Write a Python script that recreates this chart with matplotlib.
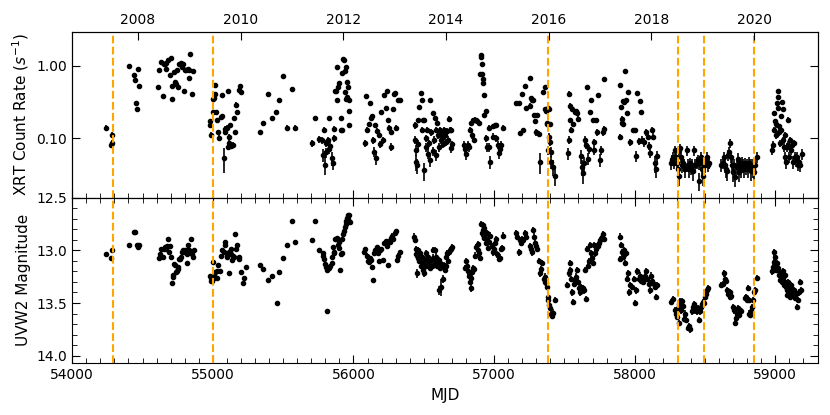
import numpy as np
import pandas as pd
import matplotlib
matplotlib.use("Agg")
import matplotlib.pyplot as plt
from matplotlib.ticker import MultipleLocator, FormatStrFormatter, LogLocator, NullFormatter

plt.rcParams['font.family'] = ['DejaVu Sans']

# XRT count rate per season: (MJD, rate, error)
xrt_2007 = [(54241, 0.14, 0.01), (54277, 0.080, 0.008), (54280, 0.085, 0.008), (54282, 0.11, 0.01)]
xrt_2008 = [(54405, 0.97, 0.05), (54436, 0.73, 0.04), (54447, 0.64, 0.04), (54452, 0.30, 0.02),
            (54459, 0.25, 0.02), (54466, 0.90, 0.05), (54476, 0.53, 0.03),
            (54613, 0.50, 0.03), (54620, 0.87, 0.04), (54632, 1.11, 0.05), (54644, 0.38, 0.02),
            (54650, 1.05, 0.05), (54660, 1.06, 0.05), (54664, 0.90, 0.04), (54670, 1.10, 0.05),
            (54680, 1.20, 0.05), (54692, 0.75, 0.04), (54700, 1.25, 0.05), (54707, 0.35, 0.02),
            (54710, 0.52, 0.03), (54722, 0.82, 0.04), (54730, 0.60, 0.03), (54738, 0.55, 0.03),
            (54743, 0.87, 0.04), (54754, 0.50, 0.03), (54761, 1.05, 0.05), (54773, 1.10, 0.05),
            (54780, 0.95, 0.05), (54785, 1.05, 0.05), (54792, 0.45, 0.03), (54802, 0.87, 0.04),
            (54808, 0.86, 0.04), (54820, 0.90, 0.04), (54830, 0.68, 0.04), (54832, 0.87, 0.04),
            (54838, 1.45, 0.06), (54849, 0.40, 0.02), (54860, 0.85, 0.04)]
xrt_2009 = [(54980, 0.15, 0.01), (54982, 0.17, 0.012), (54984, 0.11, 0.01), (55000, 0.23, 0.015),
            (55003, 0.35, 0.02), (55007, 0.36, 0.02), (55012, 0.54, 0.03), (55018, 0.41, 0.02),
            (55025, 0.23, 0.015), (55030, 0.18, 0.012), (55040, 0.12, 0.01), (55046, 0.10, 0.01),
            (55055, 0.195, 0.012), (55062, 0.20, 0.012), (55067, 0.39, 0.02), (55076, 0.053, 0.02),
            (55083, 0.135, 0.012), (55088, 0.12, 0.01), (55098, 0.14, 0.012), (55105, 0.076, 0.008),
            (55113, 0.085, 0.008), (55118, 0.105, 0.01), (55125, 0.15, 0.012), (55110, 0.44, 0.02),
            (55132, 0.078, 0.008), (55140, 0.080, 0.008), (55148, 0.19, 0.012), (55155, 0.12, 0.01),
            (55162, 0.29, 0.02), (55174, 0.23, 0.015), (55185, 0.46, 0.02), (55196, 0.52, 0.03),
            (55200, 0.43, 0.02)]
xrt_2010 = [(55335, 0.12, 0.01), (55359, 0.16, 0.01), (55390, 0.40, 0.02), (55418, 0.19, 0.012),
            (55449, 0.23, 0.015), (55472, 0.33, 0.02), (55501, 0.72, 0.04), (55525, 0.14, 0.01),
            (55560, 0.47, 0.03), (55584, 0.14, 0.01)]
xrt_2011 = [(55702, 0.085, 0.01), (55728, 0.19, 0.012), (55757, 0.096, 0.01), (55778, 0.094, 0.01),
            (55785, 0.059, 0.012), (55792, 0.13, 0.012), (55799, 0.043, 0.012), (55802, 0.085, 0.01),
            (55806, 0.064, 0.01), (55816, 0.094, 0.01), (55825, 0.19, 0.012), (55827, 0.070, 0.01),
            (55836, 0.078, 0.01), (55845, 0.053, 0.012), (55852, 0.046, 0.01), (55859, 0.099, 0.01),
            (55863, 0.135, 0.01), (55866, 0.45, 0.02), (55875, 0.44, 0.02), (55882, 0.95, 0.04),
            (55885, 0.33, 0.02), (55891, 0.50, 0.03), (55898, 0.58, 0.03), (55908, 0.19, 0.012),
            (55911, 0.13, 0.01), (55915, 0.78, 0.04), (55919, 0.13, 0.01), (55927, 1.23, 0.05),
            (55936, 1.20, 0.05), (55938, 0.85, 0.04), (55940, 0.43, 0.02), (55946, 0.35, 0.02),
            (55949, 0.95, 0.04), (55954, 0.60, 0.03), (55957, 0.37, 0.02), (55961, 0.50, 0.03),
            (55965, 0.24, 0.015), (55968, 0.33, 0.02), (55971, 0.15, 0.01)]
xrt_2012 = [(56081, 0.085, 0.01), (56088, 0.38, 0.02), (56097, 0.13, 0.012), (56109, 0.155, 0.012),
            (56116, 0.30, 0.02), (56123, 0.19, 0.015), (56130, 0.20, 0.015), (56140, 0.094, 0.01),
            (56145, 0.065, 0.01), (56157, 0.053, 0.01), (56155, 0.15, 0.012), (56170, 0.126, 0.012),
            (56183, 0.11, 0.01), (56188, 0.082, 0.01), (56193, 0.23, 0.015), (56210, 0.093, 0.01),
            (56220, 0.39, 0.02), (56232, 0.26, 0.015), (56237, 0.44, 0.02), (56248, 0.18, 0.012),
            (56250, 0.14, 0.012), (56264, 0.076, 0.01), (56268, 0.12, 0.01), (56282, 0.25, 0.015),
            (56287, 0.41, 0.02), (56298, 0.42, 0.02), (56305, 0.14, 0.012), (56318, 0.34, 0.02),
            (56330, 0.33, 0.02)]
xrt_2013 = [(56436, 0.15, 0.015), (56441, 0.094, 0.012), (56443, 0.068, 0.012), (56448, 0.047, 0.012),
            (56453, 0.042, 0.01), (56460, 0.175, 0.015), (56462, 0.082, 0.012), (56467, 0.27, 0.02),
            (56477, 0.42, 0.025), (56484, 0.34, 0.02), (56489, 0.13, 0.012), (56496, 0.175, 0.015),
            (56502, 0.036, 0.01), (56505, 0.175, 0.015), (56513, 0.10, 0.012), (56518, 0.075, 0.01),
            (56522, 0.13, 0.012), (56530, 0.061, 0.01), (56537, 0.085, 0.01), (56541, 0.34, 0.02),
            (56546, 0.050, 0.01), (56553, 0.12, 0.012), (56562, 0.22, 0.015), (56567, 0.066, 0.01),
            (56570, 0.095, 0.012), (56577, 0.19, 0.015), (56584, 0.13, 0.012), (56589, 0.058, 0.01),
            (56596, 0.16, 0.015), (56600, 0.11, 0.012), (56605, 0.075, 0.01), (56612, 0.13, 0.012),
            (56619, 0.095, 0.012), (56624, 0.115, 0.012), (56631, 0.10, 0.012), (56636, 0.082, 0.01),
            (56643, 0.13, 0.012), (56650, 0.11, 0.012), (56660, 0.088, 0.01), (56664, 0.125, 0.012),
            (56671, 0.095, 0.012), (56679, 0.185, 0.015), (56683, 0.13, 0.012), (56690, 0.072, 0.01),
            (56697, 0.13, 0.012), (56702, 0.082, 0.01)]
xrt_2014 = [(56786, 0.080, 0.01), (56795, 0.070, 0.01), (56802, 0.060, 0.01), (56814, 0.080, 0.01),
            (56821, 0.075, 0.01), (56828, 0.13, 0.012), (56833, 0.16, 0.012), (56840, 0.11, 0.012),
            (56848, 0.175, 0.015), (56855, 0.095, 0.01), (56862, 0.18, 0.015), (56869, 0.175, 0.015),
            (56881, 0.17, 0.015), (56893, 0.16, 0.012), (56902, 0.77, 0.04), (56907, 1.41, 0.06),
            (56910, 1.30, 0.06), (56912, 1.05, 0.05), (56917, 0.77, 0.04), (56921, 0.66, 0.04),
            (56924, 0.57, 0.03), (56926, 0.39, 0.02), (56928, 0.21, 0.015), (56945, 0.24, 0.015),
            (56941, 0.10, 0.012), (56947, 0.075, 0.01), (56962, 0.14, 0.012), (56967, 0.075, 0.01),
            (56973, 0.047, 0.01), (56989, 0.145, 0.012), (56995, 0.105, 0.012), (57003, 0.15, 0.012),
            (57012, 0.10, 0.012), (57016, 0.15, 0.012), (57031, 0.080, 0.01), (57035, 0.062, 0.01),
            (57042, 0.070, 0.01), (57050, 0.080, 0.01), (57060, 0.14, 0.012)]
xrt_2015 = [(57158, 0.30, 0.02), (57175, 0.30, 0.02), (57201, 0.41, 0.02), (57187, 0.116, 0.01),
            (57206, 0.13, 0.01), (57217, 0.53, 0.03), (57229, 0.26, 0.015), (57252, 0.68, 0.04),
            (57257, 0.28, 0.02), (57264, 0.36, 0.02), (57271, 0.33, 0.02), (57276, 0.34, 0.02),
            (57283, 0.21, 0.015), (57294, 0.17, 0.015), (57300, 0.12, 0.012), (57307, 0.21, 0.015),
            (57316, 0.115, 0.012), (57326, 0.047, 0.015), (57347, 0.43, 0.02), (57359, 0.50, 0.03),
            (57364, 0.25, 0.015), (57371, 0.24, 0.015), (57376, 0.16, 0.012), (57378, 0.155, 0.012),
            (57383, 0.26, 0.015), (57388, 0.25, 0.015), (57395, 0.155, 0.012), (57384, 0.068, 0.01),
            (57390, 0.105, 0.012), (57396, 0.088, 0.01), (57402, 0.065, 0.01), (57406, 0.047, 0.01),
            (57419, 0.040, 0.01), (57430, 0.030, 0.008)]
xrt_2016 = [(57528, 0.062, 0.012), (57532, 0.095, 0.012), (57535, 0.41, 0.03), (57537, 0.28, 0.02),
            (57542, 0.175, 0.015), (57547, 0.13, 0.012), (57552, 0.25, 0.015), (57561, 0.155, 0.012),
            (57573, 0.23, 0.015), (57580, 0.24, 0.015), (57589, 0.22, 0.015), (57600, 0.185, 0.015),
            (57619, 0.056, 0.012), (57624, 0.040, 0.01), (57632, 0.033, 0.01), (57636, 0.045, 0.01),
            (57648, 0.095, 0.012), (57655, 0.080, 0.01), (57663, 0.50, 0.03), (57667, 0.052, 0.01),
            (57672, 0.070, 0.01), (57679, 0.23, 0.015), (57690, 0.33, 0.02), (57702, 0.175, 0.015),
            (57709, 0.068, 0.01), (57713, 0.088, 0.01), (57725, 0.175, 0.015), (57729, 0.12, 0.012),
            (57741, 0.39, 0.02), (57754, 0.050, 0.01), (57761, 0.068, 0.01), (57773, 0.12, 0.012),
            (57780, 0.135, 0.012), (57785, 0.66, 0.04)]
xrt_2017 = [(57892, 0.105, 0.01), (57897, 0.54, 0.03), (57904, 0.27, 0.02), (57909, 0.185, 0.015),
            (57912, 0.16, 0.012), (57915, 0.155, 0.012), (57920, 0.32, 0.02), (57927, 0.31, 0.02),
            (57932, 0.85, 0.04), (57939, 0.33, 0.02), (57946, 0.22, 0.015), (57955, 0.43, 0.02),
            (57964, 0.088, 0.01), (57988, 0.13, 0.01), (57999, 0.13, 0.01), (58011, 0.057, 0.01),
            (58018, 0.42, 0.02), (58030, 0.090, 0.01), (58035, 0.32, 0.02), (58042, 0.23, 0.015),
            (58054, 0.095, 0.012), (58063, 0.088, 0.012), (58082, 0.12, 0.012), (58094, 0.105, 0.012),
            (58101, 0.078, 0.01), (58108, 0.063, 0.01), (58120, 0.13, 0.012), (58130, 0.105, 0.012),
            (58144, 0.045, 0.012), (58151, 0.038, 0.01), (58158, 0.057, 0.01)]
xrt_2018 = [(58259, 0.045, 0.009), (58266, 0.050, 0.009), (58273, 0.055, 0.01), (58280, 0.046, 0.009),
            (58287, 0.068, 0.011), (58297, 0.055, 0.01), (58304, 0.045, 0.009), (58308, 0.037, 0.009),
            (58316, 0.030, 0.008), (58318, 0.068, 0.011), (58325, 0.072, 0.011), (58332, 0.055, 0.01),
            (58337, 0.042, 0.009), (58346, 0.046, 0.009), (58353, 0.043, 0.009), (58360, 0.037, 0.009),
            (58370, 0.068, 0.011), (58377, 0.043, 0.009), (58384, 0.037, 0.009), (58394, 0.045, 0.009),
            (58401, 0.040, 0.009), (58408, 0.042, 0.009), (58417, 0.035, 0.009), (58424, 0.068, 0.011),
            (58431, 0.043, 0.009), (58441, 0.046, 0.009), (58448, 0.050, 0.009), (58455, 0.045, 0.009),
            (58459, 0.026, 0.007), (58466, 0.048, 0.009), (58474, 0.055, 0.01), (58478, 0.037, 0.009),
            (58483, 0.030, 0.008), (58488, 0.045, 0.009), (58495, 0.046, 0.009), (58502, 0.042, 0.009),
            (58507, 0.048, 0.009), (58514, 0.055, 0.01), (58521, 0.043, 0.009), (58526, 0.046, 0.009)]
xrt_2019 = [(58614, 0.043, 0.009), (58626, 0.046, 0.009), (58633, 0.055, 0.01), (58640, 0.042, 0.009),
            (58648, 0.037, 0.009), (58655, 0.035, 0.009), (58664, 0.058, 0.01), (58671, 0.064, 0.011),
            (58680, 0.085, 0.012), (58688, 0.055, 0.01), (58695, 0.043, 0.009), (58702, 0.034, 0.009),
            (58709, 0.042, 0.009), (58716, 0.029, 0.008), (58726, 0.040, 0.009), (58733, 0.052, 0.01),
            (58740, 0.034, 0.009), (58747, 0.045, 0.009), (58757, 0.037, 0.009), (58764, 0.046, 0.009),
            (58771, 0.042, 0.009), (58778, 0.037, 0.009), (58785, 0.045, 0.009), (58792, 0.040, 0.009),
            (58799, 0.043, 0.009), (58806, 0.037, 0.009), (58814, 0.046, 0.009), (58821, 0.042, 0.009),
            (58828, 0.035, 0.009), (58835, 0.043, 0.009), (58842, 0.037, 0.009), (58849, 0.034, 0.009),
            (58856, 0.042, 0.009), (58868, 0.055, 0.01)]
xrt_2020 = [(58976, 0.068, 0.01), (58983, 0.080, 0.01), (58988, 0.13, 0.012), (58993, 0.22, 0.015),
            (58997, 0.17, 0.015), (59002, 0.155, 0.015), (59004, 0.11, 0.012), (59009, 0.30, 0.02),
            (59016, 0.44, 0.025), (59018, 0.37, 0.02), (59021, 0.26, 0.02), (59023, 0.145, 0.012),
            (59028, 0.12, 0.012), (59033, 0.085, 0.01), (59037, 0.13, 0.012), (59042, 0.20, 0.015),
            (59047, 0.31, 0.02), (59052, 0.095, 0.01), (59056, 0.25, 0.02), (59061, 0.075, 0.01),
            (59066, 0.055, 0.01), (59070, 0.11, 0.012), (59075, 0.047, 0.01), (59082, 0.075, 0.01),
            (59087, 0.18, 0.015), (59091, 0.080, 0.01), (59099, 0.055, 0.01), (59103, 0.095, 0.01),
            (59110, 0.068, 0.01), (59118, 0.080, 0.01), (59122, 0.047, 0.01), (59129, 0.085, 0.01),
            (59137, 0.055, 0.01), (59144, 0.050, 0.01), (59151, 0.055, 0.01), (59158, 0.043, 0.008),
            (59165, 0.047, 0.008), (59172, 0.042, 0.008), (59186, 0.060, 0.01)]

# UVW2 magnitude per season: (MJD, mag, error)
uv_2007 = [(54241, 13.04, 0.01), (54277, 13.07, 0.01), (54282, 13.00, 0.01), (54405, 12.95, 0.01),
           (54440, 12.83, 0.01), (54447, 12.83, 0.01), (54459, 12.95, 0.01), (54466, 12.97, 0.01),
           (54476, 12.95, 0.01)]
uv_2008 = [(54618, 13.07, 0.01), (54625, 13.04, 0.01), (54632, 12.99, 0.01), (54645, 13.06, 0.01),
           (54650, 12.99, 0.01), (54659, 12.97, 0.01), (54666, 12.99, 0.01), (54672, 12.96, 0.01),
           (54680, 12.89, 0.01), (54686, 13.02, 0.01), (54692, 12.96, 0.01), (54702, 13.06, 0.01),
           (54708, 13.31, 0.01), (54716, 13.25, 0.01), (54720, 13.23, 0.01), (54727, 13.13, 0.01),
           (54733, 13.14, 0.01), (54738, 13.21, 0.01), (54743, 13.20, 0.01), (54750, 13.18, 0.01),
           (54755, 13.16, 0.01), (54762, 13.08, 0.01), (54767, 13.08, 0.01), (54773, 13.06, 0.01),
           (54783, 13.02, 0.01), (54790, 13.00, 0.01), (54797, 13.02, 0.01), (54804, 13.00, 0.01),
           (54813, 13.04, 0.01), (54818, 13.00, 0.01), (54825, 12.95, 0.01), (54832, 13.00, 0.01),
           (54842, 12.89, 0.01), (54849, 13.04, 0.01), (54860, 13.06, 0.01), (54868, 13.00, 0.01),
           (54813, 13.12, 0.01)]
uv_2009 = [(54980, 13.24, 0.01), (54985, 13.29, 0.01), (54990, 13.26, 0.01), (54995, 13.29, 0.01),
           (55002, 13.11, 0.01), (55005, 13.26, 0.01), (55009, 13.23, 0.01), (55017, 13.21, 0.01),
           (55028, 13.20, 0.01), (55033, 13.26, 0.01), (55040, 13.14, 0.01), (55052, 13.20, 0.01),
           (55056, 13.05, 0.01), (55064, 13.00, 0.01), (55076, 13.02, 0.01), (55083, 12.92, 0.01),
           (55090, 12.95, 0.01), (55099, 13.05, 0.01), (55104, 13.06, 0.01), (55113, 13.02, 0.01),
           (55118, 13.22, 0.01), (55127, 12.99, 0.01), (55132, 13.04, 0.01), (55139, 13.09, 0.01),
           (55146, 13.05, 0.01), (55154, 13.06, 0.01), (55160, 12.85, 0.01), (55165, 12.99, 0.01),
           (55172, 12.95, 0.01), (55184, 13.06, 0.01), (55189, 13.08, 0.01), (55198, 13.21, 0.01),
           (55212, 13.31, 0.01), (55222, 13.26, 0.01), (55234, 13.16, 0.01)]
uv_2010 = [(55335, 13.14, 0.01), (55359, 13.18, 0.01), (55390, 13.28, 0.01), (55418, 13.24, 0.01),
           (55453, 13.50, 0.01), (55472, 13.21, 0.01), (55501, 13.07, 0.01), (55530, 12.95, 0.01),
           (55560, 12.72, 0.01), (55584, 12.92, 0.01), (55702, 12.90, 0.01), (55726, 12.72, 0.01)]
uv_2011 = [(55757, 13.00, 0.015), (55780, 13.03, 0.015), (55785, 13.05, 0.015), (55792, 13.08, 0.015),
           (55799, 13.13, 0.015), (55806, 13.16, 0.015), (55810, 13.19, 0.015), (55813, 13.575, 0.01),
           (55816, 13.17, 0.015), (55825, 13.17, 0.015), (55832, 13.15, 0.015), (55845, 13.12, 0.015),
           (55848, 13.06, 0.015), (55851, 12.97, 0.015), (55859, 13.03, 0.015), (55865, 13.02, 0.015),
           (55870, 12.89, 0.015), (55880, 12.88, 0.015), (55887, 12.95, 0.015), (55894, 12.92, 0.015),
           (55898, 12.98, 0.015), (55906, 13.19, 0.015), (55911, 13.04, 0.015), (55915, 13.03, 0.015),
           (55920, 12.89, 0.015), (55927, 12.85, 0.015), (55934, 12.82, 0.015), (55940, 12.78, 0.02),
           (55945, 12.75, 0.02), (55949, 12.72, 0.02), (55954, 12.69, 0.02), (55959, 12.67, 0.02),
           (55963, 12.70, 0.02), (55968, 12.67, 0.02), (55973, 12.73, 0.02)]
uv_2012 = [(56074, 13.02, 0.02), (56083, 12.99, 0.02), (56093, 13.05, 0.02), (56100, 13.10, 0.02),
           (56109, 13.11, 0.02), (56116, 13.07, 0.02), (56123, 13.09, 0.02), (56130, 13.16, 0.02),
           (56137, 13.28, 0.02), (56145, 13.03, 0.02), (56154, 13.00, 0.02), (56164, 12.97, 0.02),
           (56176, 13.03, 0.02), (56183, 13.10, 0.02), (56188, 13.00, 0.02), (56197, 12.99, 0.02),
           (56211, 13.09, 0.02), (56218, 12.93, 0.02), (56228, 12.91, 0.02), (56235, 12.96, 0.02),
           (56247, 13.14, 0.02), (56251, 12.91, 0.02), (56259, 12.92, 0.02), (56266, 12.88, 0.02),
           (56275, 12.86, 0.02), (56282, 12.89, 0.02), (56294, 12.84, 0.02), (56301, 12.82, 0.02),
           (56310, 13.09, 0.02), (56318, 13.05, 0.02), (56330, 13.02, 0.02)]
uv_2013 = [(56429, 12.87, 0.03), (56436, 12.90, 0.03), (56443, 12.99, 0.03), (56448, 13.04, 0.03),
           (56453, 13.22, 0.04), (56457, 13.07, 0.03), (56462, 13.00, 0.03), (56467, 13.10, 0.03),
           (56472, 13.03, 0.03), (56479, 13.15, 0.03), (56484, 13.06, 0.03), (56491, 13.12, 0.03),
           (56496, 13.19, 0.03), (56503, 13.22, 0.03), (56508, 13.09, 0.03), (56515, 13.03, 0.03),
           (56519, 13.15, 0.03), (56527, 13.10, 0.03), (56531, 13.06, 0.03), (56538, 13.14, 0.03),
           (56543, 13.17, 0.03), (56550, 13.09, 0.03), (56555, 13.15, 0.03), (56562, 13.00, 0.03),
           (56567, 13.07, 0.03), (56574, 13.14, 0.03), (56578, 13.00, 0.03), (56586, 13.06, 0.03),
           (56590, 13.10, 0.03), (56597, 13.15, 0.03), (56605, 13.09, 0.03), (56609, 13.38, 0.04),
           (56612, 13.17, 0.03), (56617, 13.12, 0.03), (56624, 13.35, 0.08), (56631, 13.15, 0.03),
           (56636, 13.27, 0.04), (56641, 13.14, 0.03), (56648, 13.19, 0.03), (56655, 13.15, 0.03),
           (56660, 13.06, 0.03), (56667, 13.03, 0.03), (56674, 13.10, 0.03), (56679, 13.02, 0.03),
           (56688, 13.00, 0.03), (56695, 12.99, 0.03), (56702, 12.97, 0.03)]
uv_2014 = [(56794, 13.17, 0.03), (56801, 13.10, 0.03), (56808, 13.15, 0.03), (56815, 13.20, 0.03),
           (56822, 13.24, 0.03), (56829, 13.30, 0.03), (56834, 13.36, 0.04), (56838, 13.26, 0.03),
           (56846, 13.21, 0.03), (56853, 13.17, 0.03), (56860, 13.18, 0.03), (56867, 13.05, 0.03),
           (56874, 12.97, 0.03), (56882, 13.00, 0.03), (56889, 12.94, 0.03), (56896, 13.03, 0.03),
           (56903, 13.07, 0.03), (56910, 12.75, 0.03), (56912, 12.84, 0.03), (56919, 12.76, 0.03),
           (56922, 12.81, 0.03), (56927, 12.79, 0.03), (56929, 12.87, 0.03), (56931, 12.88, 0.03),
           (56938, 12.84, 0.03), (56939, 12.93, 0.03), (56946, 12.84, 0.03), (56953, 12.90, 0.03),
           (56958, 12.98, 0.03), (56965, 12.92, 0.03), (56972, 12.86, 0.03), (56982, 12.96, 0.03),
           (56989, 13.02, 0.03), (56998, 12.99, 0.03), (57005, 12.93, 0.03), (57012, 12.89, 0.03),
           (57024, 13.04, 0.03), (57034, 13.08, 0.03), (57041, 13.07, 0.03), (57048, 12.99, 0.03),
           (57055, 12.98, 0.03), (57060, 12.86, 0.03)]
uv_2015 = [(57158, 12.84, 0.03), (57165, 12.87, 0.03), (57175, 13.02, 0.03), (57182, 12.90, 0.03),
           (57189, 12.93, 0.03), (57198, 12.89, 0.03), (57206, 12.90, 0.03), (57217, 12.84, 0.03),
           (57225, 12.87, 0.03), (57253, 12.96, 0.03), (57260, 12.99, 0.03), (57267, 13.02, 0.03),
           (57277, 12.81, 0.03), (57284, 12.87, 0.03), (57291, 12.93, 0.03), (57301, 12.96, 0.03),
           (57308, 12.99, 0.03), (57317, 13.10, 0.03), (57324, 13.22, 0.03), (57331, 13.18, 0.03),
           (57343, 13.12, 0.03), (57352, 13.27, 0.03), (57359, 13.25, 0.03), (57364, 13.30, 0.03),
           (57371, 13.31, 0.03), (57376, 13.35, 0.03), (57381, 13.44, 0.03), (57386, 13.47, 0.03),
           (57390, 13.52, 0.03), (57397, 13.55, 0.03), (57404, 13.60, 0.03), (57411, 13.62, 0.03),
           (57418, 13.59, 0.03), (57430, 13.47, 0.03)]
uv_2016 = [(57521, 13.33, 0.03), (57530, 13.22, 0.03), (57537, 13.12, 0.03), (57542, 13.19, 0.03),
           (57547, 13.27, 0.03), (57553, 13.40, 0.03), (57558, 13.49, 0.03), (57565, 13.32, 0.03),
           (57572, 13.28, 0.03), (57580, 13.25, 0.03), (57587, 13.19, 0.03), (57594, 13.30, 0.03),
           (57601, 13.36, 0.03), (57608, 13.40, 0.03), (57615, 13.35, 0.03), (57622, 13.38, 0.03),
           (57629, 13.36, 0.03), (57637, 13.38, 0.03), (57646, 13.19, 0.03), (57655, 13.46, 0.03),
           (57660, 12.99, 0.03), (57667, 13.15, 0.03), (57674, 13.10, 0.03), (57681, 12.95, 0.03),
           (57689, 13.03, 0.03), (57696, 13.07, 0.03), (57703, 13.12, 0.03), (57710, 12.95, 0.03),
           (57717, 13.03, 0.03), (57724, 12.99, 0.03), (57731, 12.96, 0.03), (57738, 12.96, 0.03),
           (57745, 12.93, 0.03), (57755, 12.90, 0.03), (57764, 12.87, 0.03), (57774, 12.85, 0.03),
           (57783, 12.89, 0.03)]
uv_2017 = [(57892, 12.87, 0.03), (57897, 13.08, 0.03), (57904, 12.95, 0.03), (57912, 13.02, 0.03),
           (57916, 13.06, 0.03), (57921, 13.00, 0.03), (57928, 13.12, 0.03), (57935, 13.03, 0.03),
           (57942, 13.27, 0.03), (57949, 13.22, 0.03), (57959, 13.40, 0.03), (57968, 13.33, 0.03),
           (57983, 13.35, 0.03), (57995, 13.27, 0.03), (58002, 13.50, 0.03), (58011, 13.38, 0.03),
           (58018, 13.20, 0.03), (58028, 13.27, 0.03), (58035, 13.24, 0.03), (58044, 13.29, 0.03),
           (58052, 13.26, 0.03), (58059, 13.30, 0.03), (58071, 13.24, 0.03), (58082, 13.20, 0.03),
           (58090, 13.27, 0.03), (58099, 13.32, 0.03), (58106, 13.38, 0.03), (58116, 13.24, 0.03),
           (58125, 13.29, 0.03), (58135, 13.32, 0.03), (58144, 13.35, 0.03), (58153, 13.44, 0.03),
           (58160, 13.33, 0.03)]
uv_2018 = [(58259, 13.49, 0.03), (58271, 13.46, 0.03), (58283, 13.57, 0.03), (58290, 13.60, 0.03),
           (58299, 13.63, 0.03), (58306, 13.55, 0.03), (58313, 13.51, 0.03), (58318, 13.69, 0.03),
           (58325, 13.48, 0.03), (58332, 13.57, 0.03), (58339, 13.48, 0.03), (58346, 13.53, 0.03),
           (58353, 13.65, 0.03), (58360, 13.60, 0.03), (58367, 13.66, 0.03), (58377, 13.74, 0.03),
           (58384, 13.72, 0.03), (58391, 13.75, 0.03), (58405, 13.58, 0.03), (58412, 13.54, 0.03),
           (58419, 13.51, 0.03), (58426, 13.57, 0.03), (58436, 13.55, 0.03), (58443, 13.58, 0.03),
           (58450, 13.55, 0.03), (58459, 13.66, 0.03), (58466, 13.58, 0.03), (58474, 13.54, 0.03),
           (58481, 13.51, 0.03), (58488, 13.49, 0.03), (58495, 13.50, 0.03), (58502, 13.44, 0.03),
           (58509, 13.41, 0.03), (58516, 13.38, 0.03), (58523, 13.36, 0.03)]
uv_2019 = [(58614, 13.33, 0.03), (58626, 13.32, 0.03), (58635, 13.22, 0.03), (58643, 13.27, 0.03),
           (58652, 13.29, 0.03), (58659, 13.38, 0.03), (58666, 13.41, 0.03), (58674, 13.44, 0.03),
           (58681, 13.40, 0.03), (58688, 13.43, 0.03), (58697, 13.54, 0.03), (58705, 13.57, 0.03),
           (58712, 13.69, 0.03), (58719, 13.64, 0.03), (58726, 13.60, 0.03), (58733, 13.55, 0.03),
           (58740, 13.61, 0.03), (58747, 13.57, 0.03), (58757, 13.58, 0.03), (58781, 13.45, 0.03),
           (58788, 13.44, 0.03), (58795, 13.47, 0.03), (58802, 13.36, 0.03), (58809, 13.47, 0.03),
           (58816, 13.60, 0.03), (58823, 13.61, 0.03), (58830, 13.58, 0.03), (58837, 13.54, 0.03),
           (58844, 13.47, 0.03), (58851, 13.40, 0.03), (58858, 13.38, 0.03), (58868, 13.26, 0.03)]
uv_2020 = [(58976, 13.20, 0.03), (58983, 13.16, 0.03), (58988, 13.11, 0.03), (58993, 13.02, 0.03),
           (58997, 13.06, 0.03), (59002, 13.14, 0.03), (59007, 13.19, 0.03), (59011, 13.12, 0.03),
           (59016, 13.17, 0.03), (59023, 13.23, 0.03), (59028, 13.20, 0.03), (59033, 13.28, 0.03),
           (59037, 13.22, 0.03), (59042, 13.25, 0.03), (59047, 13.30, 0.03), (59052, 13.26, 0.03),
           (59056, 13.20, 0.03), (59061, 13.33, 0.03), (59066, 13.30, 0.03), (59070, 13.23, 0.03),
           (59075, 13.35, 0.03), (59080, 13.42, 0.03), (59085, 13.38, 0.03), (59089, 13.30, 0.03),
           (59094, 13.35, 0.03), (59099, 13.41, 0.03), (59103, 13.44, 0.03), (59108, 13.33, 0.03),
           (59115, 13.38, 0.03), (59122, 13.42, 0.03), (59129, 13.38, 0.03), (59137, 13.45, 0.03),
           (59144, 13.41, 0.03), (59151, 13.54, 0.03), (59158, 13.47, 0.03), (59165, 13.40, 0.03),
           (59172, 13.30, 0.03), (59181, 13.38, 0.03)]

# dates marked with dashed lines (MJD)
events = [54290, 55000, 57385, 58305, 58490, 58845]
years = [2008, 2010, 2012, 2014, 2016, 2018, 2020]

xrt = np.array(xrt_2007 + xrt_2008 + xrt_2009 + xrt_2010 + xrt_2011 + xrt_2012 + xrt_2013
               + xrt_2014 + xrt_2015 + xrt_2016 + xrt_2017 + xrt_2018 + xrt_2019 + xrt_2020)
uv = np.array(uv_2007 + uv_2008 + uv_2009 + uv_2010 + uv_2011 + uv_2012 + uv_2013
              + uv_2014 + uv_2015 + uv_2016 + uv_2017 + uv_2018 + uv_2019 + uv_2020)

fig, (ax1, ax2) = plt.subplots(2, 1, sharex=True, figsize=(8.3, 4.15), dpi=100)
fig.subplots_adjust(left=0.087, right=0.985, top=0.923, bottom=0.125, hspace=0)

ax1.errorbar(xrt[:, 0], xrt[:, 1], yerr=xrt[:, 2], fmt='o', color='black', ms=3,
             elinewidth=1.2, capsize=0)
ax2.errorbar(uv[:, 0], uv[:, 1], yerr=uv[:, 2], fmt='o', color='black', ms=3,
             elinewidth=1.2, capsize=0)

for ax in (ax1, ax2):
    for t in events:
        ax.axvline(t, color='orange', linestyle='--', linewidth=1.5, zorder=3)

ax1.set_yscale('log')
ax1.set_ylim(0.0152, 2.9)
ax1.yaxis.set_major_locator(LogLocator(base=10, subs=[1.0]))
ax1.yaxis.set_major_formatter(FormatStrFormatter('%.2f'))
ax1.yaxis.set_minor_locator(LogLocator(base=10, subs=np.arange(2, 10)))
ax1.yaxis.set_minor_formatter(NullFormatter())
ax1.set_ylabel('XRT Count Rate ($s^{-1}$)', fontsize=11)

ax2.set_ylim(14.07, 12.5)
ax2.yaxis.set_major_locator(MultipleLocator(0.5))
ax2.yaxis.set_minor_locator(MultipleLocator(0.1))
ax2.yaxis.set_major_formatter(FormatStrFormatter('%.1f'))
ax2.set_ylabel('UVW2 Magnitude', fontsize=11)

ax2.set_xlim(54000, 59300)
ax2.xaxis.set_major_locator(MultipleLocator(1000))
ax2.xaxis.set_minor_locator(MultipleLocator(100))
ax2.set_xlabel('MJD', fontsize=11)

ax1.tick_params(which='both', direction='in', top=False, right=True, labelsize=10)
ax2.tick_params(which='both', direction='in', top=True, right=True, labelsize=10)
for ax in (ax1, ax2):
    ax.tick_params(which='major', length=6)
    ax.tick_params(which='minor', length=3.5)

# calendar years on the top axis
mjd0 = pd.Timestamp('1858-11-17')
year_mjd = [(pd.Timestamp(f'{y}-01-01') - mjd0).days for y in years]
ax_top = ax1.twiny()
ax_top.set_xlim(ax1.get_xlim())
ax_top.set_xticks(year_mjd)
ax_top.set_xticklabels([str(y) for y in years])
ax_top.tick_params(direction='in', length=6, labelsize=10)
ax_top.minorticks_off()

fig.align_ylabels([ax1, ax2])
plt.savefig('out.png', dpi=100)
